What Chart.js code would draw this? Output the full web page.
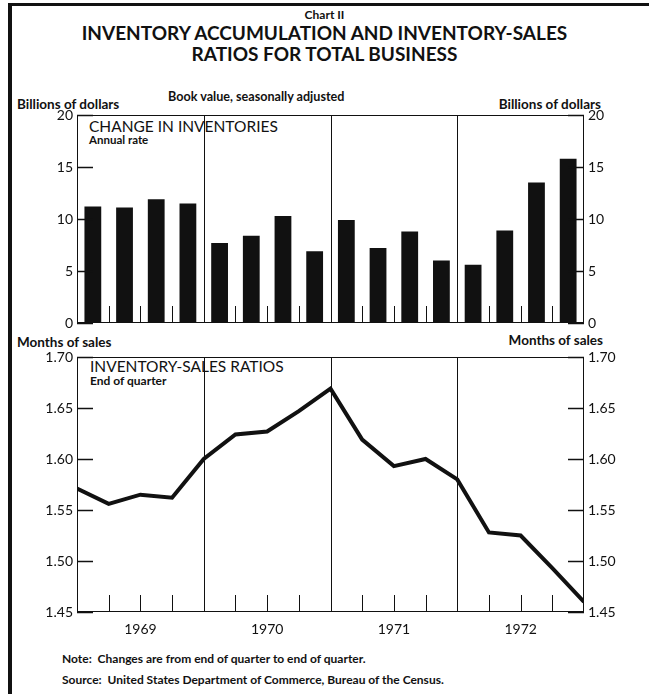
<!DOCTYPE html>
<html>
<head>
<meta charset="utf-8">
<script src="https://cdn.jsdelivr.net/npm/chart.js@4.4.1/dist/chart.umd.min.js"></script>
<style>
  body { margin: 0; background: #fff; }
  #page { position: relative; width: 649px; height: 694px; overflow: hidden; font-family: Lato, "Open Sans", sans-serif; color: #111; }
  .t { position: absolute; white-space: nowrap; line-height: 1; }
  .b { font-weight: 700; }
  canvas { position: absolute; left: 0; }
  #frameTop { position: absolute; left: 8px; top: 3px; width: 641px; height: 3px; background: #111; }
  #frameLeft { position: absolute; left: 8px; top: 3px; width: 4px; height: 691px; background: #111; }
</style>
</head>
<body>
<div id="page">
  <div id="frameTop"></div>
  <div id="frameLeft"></div>

  <div class="t b" style="left:0;width:649px;text-align:center;top:9px;font-size:12px;">Chart II</div>
  <div class="t b" style="left:0;width:649px;text-align:center;top:23px;font-size:19px;">INVENTORY ACCUMULATION AND INVENTORY-SALES</div>
  <div class="t b" style="left:0;width:649px;text-align:center;top:44px;font-size:19px;">RATIOS FOR TOTAL BUSINESS</div>

  <div class="t b" style="left:168px;top:91px;font-size:12.6px;">Book value, seasonally adjusted</div>
  <div class="t b" style="left:17px;top:98px;font-size:13.5px;">Billions of dollars</div>
  <div class="t b" style="right:48px;top:98px;font-size:13.5px;">Billions of dollars</div>

  <div class="t" style="left:89px;top:119px;font-size:15.5px;">CHANGE IN INVENTORIES</div>
  <div class="t b" style="left:89px;top:134px;font-size:11.5px;">Annual rate</div>

  <div class="t b" style="left:17px;top:336px;font-size:13.5px;">Months of sales</div>
  <div class="t b" style="right:46px;top:334px;font-size:13.5px;">Months of sales</div>

  <div class="t" style="left:90px;top:359px;font-size:15.5px;">INVENTORY-SALES RATIOS</div>
  <div class="t b" style="left:90px;top:375px;font-size:12px;">End of quarter</div>

  <div class="t b" style="left:62px;top:653px;font-size:12px;">Note:&nbsp; Changes are from end of quarter to end of quarter.</div>
  <div class="t b" style="left:62px;top:674px;font-size:12px;">Source:&nbsp; United States Department of Commerce, Bureau of the Census.</div>

  <canvas id="bars" width="649" height="240" style="top:100px;"></canvas>
  <canvas id="ratios" width="649" height="310" style="top:335px;"></canvas>
</div>

<script>
// Quartale 1969 Q1 - 1972 Q4
const years = ['1969', '1970', '1971', '1972'];
const quarterCount = 16;

// Veraenderung der Lagerbestaende, Mrd. Dollar (Jahresrate)
const inventoryChange = [11.2, 11.1, 11.9, 11.5, 7.7, 8.4, 10.3, 6.9, 9.9, 7.2, 8.8, 6.0, 5.6, 8.9, 13.5, 15.8];

// Lager-Umsatz-Verhaeltnis am Quartalsende (Ende 1968 Q4 bis 1972 Q4)
const salesRatio = [1.571, 1.556, 1.565, 1.562, 1.600, 1.624, 1.627, 1.647, 1.669, 1.619, 1.593, 1.600, 1.580, 1.528, 1.525, 1.493, 1.460];

const barTicks = [0, 5, 10, 15, 20];
const ratioTicks = [1.45, 1.50, 1.55, 1.60, 1.65, 1.70];

Chart.defaults.font.family = 'Lato, "Open Sans", sans-serif';
Chart.defaults.color = '#111';

// Rahmen, Jahreslinien und kurze Striche nach innen
const framePlugin = {
  id: 'frame',
  afterDatasetsDraw(chart, args, opts) {
    const { ctx, chartArea: a, scales } = chart;
    ctx.save();
    ctx.strokeStyle = '#111';
    ctx.lineWidth = 1;
    ctx.strokeRect(a.left + 0.5, a.top + 0.5, a.width - 1, a.height - 1);
    for (let q = 1; q < quarterCount; q++) {
      const px = Math.round(scales.x.getPixelForValue(q)) + 0.5;
      ctx.beginPath();
      if (q % 4 === 0) {
        ctx.moveTo(px, a.top);
        ctx.lineTo(px, a.bottom);
      } else {
        ctx.moveTo(px, a.bottom);
        ctx.lineTo(px, a.bottom - opts.quarterTick);
      }
      ctx.stroke();
    }
    ctx.lineWidth = 1.5;
    for (const t of scales.y.ticks) {
      const py = Math.round(scales.y.getPixelForValue(t.value)) + 0.5;
      ctx.beginPath();
      ctx.moveTo(a.left, py);
      ctx.lineTo(a.left + opts.axisTick, py);
      ctx.moveTo(a.right, py);
      ctx.lineTo(a.right - opts.axisTick, py);
      ctx.stroke();
    }
    ctx.restore();
  }
};

function yAxis(position, ticks, width, decimals) {
  return {
    type: 'linear',
    position: position,
    min: ticks[0],
    max: ticks[ticks.length - 1],
    afterBuildTicks: (s) => { s.ticks = ticks.map(v => ({ value: v })); },
    afterFit: (s) => { s.width = width; },
    grid: { display: false, drawTicks: false },
    border: { display: false },
    ticks: {
      padding: 4,
      font: { size: 14 },
      callback: (v) => v.toFixed(decimals)
    }
  };
}

new Chart(document.getElementById('bars'), {
  type: 'bar',
  data: {
    datasets: [{
      data: inventoryChange.map((v, i) => ({ x: i + 0.5, y: v })),
      backgroundColor: '#111',
      borderWidth: 0,
      barPercentage: 0.53,
      categoryPercentage: 1
    }]
  },
  options: {
    responsive: false,
    animation: false,
    layout: { padding: { top: 15, bottom: 17, left: 0, right: 0 } },
    plugins: {
      legend: { display: false },
      tooltip: { enabled: false },
      frame: { quarterTick: 17, axisTick: 16 }
    },
    scales: {
      x: { type: 'linear', min: 0, max: quarterCount, offset: false, display: false },
      y: yAxis('left', barTicks, 77, 0),
      y2: yAxis('right', barTicks, 65, 0)
    }
  },
  plugins: [framePlugin]
});

new Chart(document.getElementById('ratios'), {
  type: 'line',
  data: {
    datasets: [{
      data: salesRatio.map((v, i) => ({ x: i, y: v })),
      borderColor: '#111',
      borderWidth: 4,
      pointRadius: 0,
      tension: 0
    }]
  },
  options: {
    responsive: false,
    animation: false,
    layout: { padding: { top: 22, bottom: 10, left: 0, right: 0 } },
    plugins: {
      legend: { display: false },
      tooltip: { enabled: false },
      frame: { quarterTick: 17, axisTick: 16 }
    },
    scales: {
      x: {
        type: 'linear',
        min: 0,
        max: quarterCount,
        afterBuildTicks: (s) => { s.ticks = years.map((y, i) => ({ value: i * 4 + 2 })); },
        afterFit: (s) => { s.height = 23; },
        grid: { display: false, drawTicks: false },
        border: { display: false },
        ticks: {
          padding: 9,
          maxRotation: 0,
          font: { size: 14 },
          callback: (v) => years[(v - 2) / 4]
        }
      },
      y: yAxis('left', ratioTicks, 77, 2),
      y2: yAxis('right', ratioTicks, 65, 2)
    }
  },
  plugins: [framePlugin]
});
</script>
</body>
</html>
